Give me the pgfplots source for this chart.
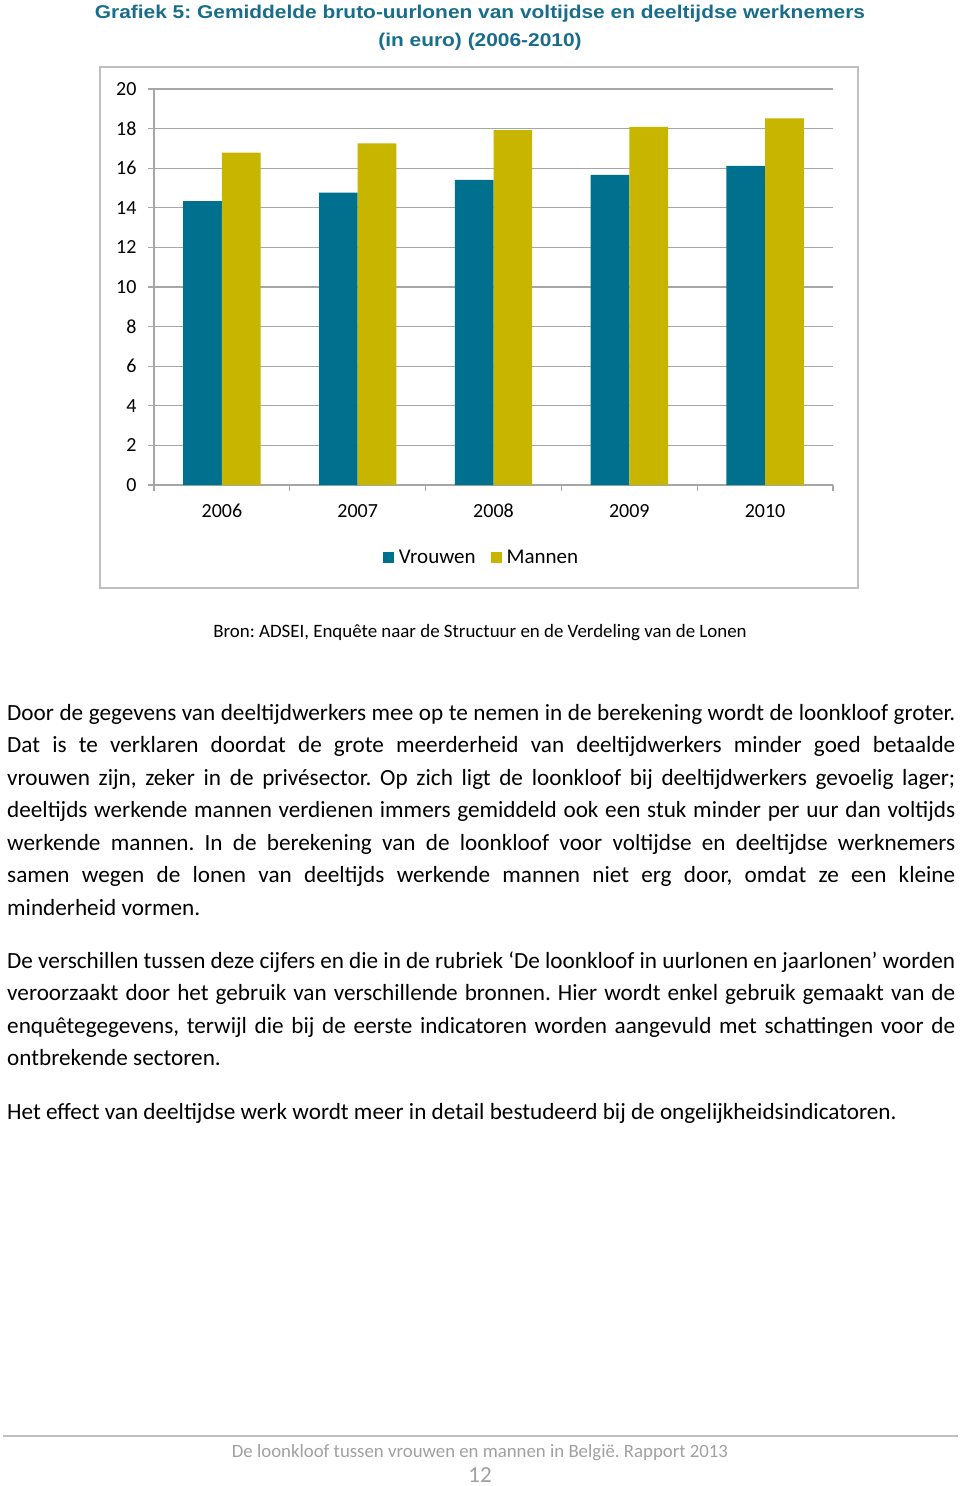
\documentclass[border=0pt]{standalone}
\usepackage{pgfplots}
\pgfplotsset{compat=1.18}
\usepackage{fontspec}
\setmainfont{Carlito}
\newfontfamily\arialfont[FakeStretch=1.13]{Liberation Sans}
\definecolor{vrouwen}{RGB}{0,112,143}
\definecolor{mannen}{RGB}{200,181,0}
\definecolor{titel}{RGB}{24,109,139}
\definecolor{rooster}{RGB}{166,166,166}
\definecolor{kader}{RGB}{191,191,191}
\definecolor{voet}{RGB}{160,160,160}

\pgfplotstableread{
jaar vrouwen mannen
0 14.34 16.79
1 14.77 17.25
2 15.41 17.92
3 15.66 18.09
4 16.12 18.52
}\uurlonen

\newcommand\tekst{\fontsize{23.2}{32.5}\selectfont}

\begin{document}
\frenchspacing
\begin{tikzpicture}
\begin{scope}[x=1pt,y=1pt]
\useasboundingbox (0,0) rectangle (960,-1486);
% titel
\node[anchor=base, inner sep=0, text=titel, font=\arialfont\bfseries\fontsize{18.5}{24}\selectfont]
  at (480,-18) {Grafiek 5: Gemiddelde bruto-uurlonen van voltijdse en deeltijdse werknemers};
\node[anchor=base, inner sep=0, text=titel, font=\arialfont\bfseries\fontsize{18.5}{24}\selectfont]
  at (480,-46) {(in euro) (2006-2010)};
% kader rond de grafiek
\draw[kader, line width=2] (100,-67) rectangle (858,-588);
% bron
\node[anchor=base, inner sep=0, font=\fontsize{18.9}{22}\selectfont]
  at (480,-637) {Bron: ADSEI, Enquête naar de Structuur en de Verdeling van de Lonen};
% tekst
\node[anchor=base west, inner sep=0] at (7,-720) {\parbox[t]{948pt}{\tekst\hbadness=10000\parindent=0pt
Door de gegevens van deeltijdwerkers mee op te nemen in de berekening wordt de loonkloof groter.\linebreak
Dat is te verklaren doordat de grote meerderheid van deeltijdwerkers minder goed betaalde\linebreak
vrouwen zijn, zeker in de privésector. Op zich ligt de loonkloof bij deeltijdwerkers gevoelig lager;\linebreak
deeltijds werkende mannen verdienen immers gemiddeld ook een stuk minder per uur dan voltijds\linebreak
werkende mannen. In de berekening van de loonkloof voor voltijdse en deeltijdse werknemers\linebreak
samen wegen de lonen van deeltijds werkende mannen niet erg door, omdat ze een kleine\linebreak
minderheid vormen.}};
\node[anchor=base west, inner sep=0] at (7,-968) {\parbox[t]{948pt}{\tekst\hbadness=10000\parindent=0pt
De verschillen tussen deze cijfers en die in de rubriek ‘De loonkloof in uurlonen en jaarlonen’ worden\linebreak
veroorzaakt door het gebruik van verschillende bronnen. Hier wordt enkel gebruik gemaakt van de\linebreak
enquêtegegevens, terwijl die bij de eerste indicatoren worden aangevuld met schattingen voor de\linebreak
ontbrekende sectoren.}};
\node[anchor=base west, inner sep=0] at (7,-1119) {\tekst
Het effect van deeltijdse werk wordt meer in detail bestudeerd bij de ongelijkheidsindicatoren.};
% voettekst
\draw[kader, line width=1.5] (3,-1436) -- (958,-1436);
\node[anchor=base, inner sep=0, text=voet, font=\fontsize{18.8}{22}\selectfont]
  at (480,-1457) {De loonkloof tussen vrouwen en mannen in België. Rapport 2013};
\node[anchor=base, inner sep=0, text=voet, font=\fontsize{23}{25}\selectfont]
  at (480,-1482) {12};
\end{scope}

\begin{axis}[
  at={(154pt,-485pt)}, anchor=south west, scale only axis,
  width=679pt, height=396pt,
  ybar=0pt, bar width=38.7pt,
  ymin=0, ymax=20, ytick={0,2,...,20},
  xmin=-0.5, xmax=4.5,
  xtick={0,...,4}, xticklabels={2006,2007,2008,2009,2010},
  minor xtick={-0.5,0.5,...,4.5},
  major x tick style={draw=none},
  minor x tick style={rooster, line width=1.2pt},
  minor tick length=6pt, major tick length=6pt,
  tick align=outside,
  y tick style={rooster, line width=1.2pt},
  axis x line*=bottom, axis y line*=left,
  axis line style={rooster, line width=1.2pt, -},
  ymajorgrids, grid style={rooster, line width=1.2pt},
  /pgf/number format/assume math mode=true,
  typeset ticklabels with strut,
  tick label style={font=\fontsize{20}{22}\selectfont},
  xticklabel style={yshift=-8pt},
  yticklabel style={xshift=-8pt, yshift=-2pt},
  legend style={at={(0.4845,-0.182)}, anchor=center, draw=none, fill=none,
    legend columns=2, font=\fontsize{21}{22}\selectfont,
    nodes={inner sep=5pt},
    /tikz/every even column/.append style={column sep=10pt}},
  legend image code/.code={\fill[#1, draw=none] (0pt,-5.5pt) rectangle (11pt,5.5pt);},
]
\addplot[fill=vrouwen, draw=none] table[x=jaar, y=vrouwen] {\uurlonen};
\addlegendentry{Vrouwen}
\addplot[fill=mannen, draw=none] table[x=jaar, y=mannen] {\uurlonen};
\addlegendentry{Mannen}
\end{axis}
\end{tikzpicture}
\end{document}
